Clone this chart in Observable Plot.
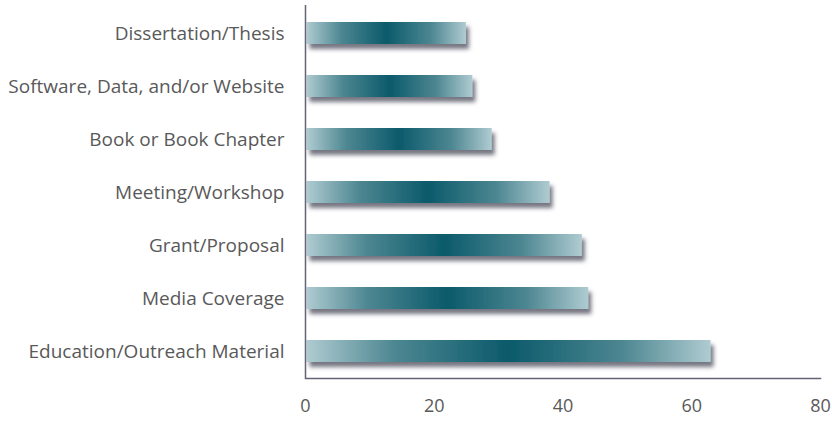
<!DOCTYPE html>
<html>
<head>
<meta charset="utf-8">
<script src="https://cdn.jsdelivr.net/npm/d3@7"></script>
<script src="https://cdn.jsdelivr.net/npm/@observablehq/plot@0.6"></script>
<style>
  html, body { margin: 0; padding: 0; background: #fff; }
  #chart svg { display: block; }
  #chart svg g[aria-label="y-axis tick label"] text { font-size: 19px; }
</style>
</head>
<body>
<div id="chart"></div>
<script>
const categories = [
  "Dissertation/Thesis",
  "Software, Data, and/or Website",
  "Book or Book Chapter",
  "Meeting/Workshop",
  "Grant/Proposal",
  "Media Coverage",
  "Education/Outreach Material"
];
const values = [25, 26, 29, 38, 43, 44, 63];
const xTicks = [0, 20, 40, 60, 80];

const data = categories.map((c, i) => ({category: c, value: values[i]}));

const defs = () => {
  const svg = d3.create("svg:defs");
  const g = svg.append("linearGradient").attr("id", "barGrad")
    .attr("x1", "0").attr("x2", "1").attr("y1", "0").attr("y2", "0");
  g.append("stop").attr("offset", "0%").attr("stop-color", "#afcbd1");
  g.append("stop").attr("offset", "22%").attr("stop-color", "#4c8691");
  g.append("stop").attr("offset", "50%").attr("stop-color", "#0b5a6b");
  g.append("stop").attr("offset", "78%").attr("stop-color", "#4c8691");
  g.append("stop").attr("offset", "100%").attr("stop-color", "#afcbd1");
  const f = svg.append("filter").attr("id", "barShadow")
    .attr("x", "-10%").attr("y", "-30%").attr("width", "130%").attr("height", "200%");
  f.append("feDropShadow").attr("dx", 3).attr("dy", 5).attr("stdDeviation", 2.2)
    .attr("flood-color", "#3a3a50").attr("flood-opacity", 0.7);
  return svg.node();
};

const chart = Plot.plot({
  width: 832,
  height: 421,
  marginLeft: 305,
  marginRight: 12,
  marginTop: 5,
  marginBottom: 43,
  style: {fontFamily: "'Open Sans', sans-serif", fontSize: "18px", color: "#595959", background: "#fff"},
  x: {domain: [0, 80], ticks: xTicks, label: null, tickSize: 0, tickPadding: 21},
  y: {domain: categories, paddingInner: 0.59, paddingOuter: 0.295, label: null, tickSize: 0, tickPadding: 21},
  marks: [
    defs,
    Plot.barX(data, {x: "value", y: "category", fill: "url(#barGrad)", insetLeft: 1.5}),
    Plot.ruleX([0], {stroke: "#646474", strokeWidth: 1.5}),
    Plot.frame({anchor: "bottom", stroke: "#646474", strokeWidth: 1.5})
  ]
});
d3.select(chart).selectAll("g[aria-label='bar']").attr("filter", "url(#barShadow)");
document.getElementById("chart").appendChild(chart);
</script>
</body>
</html>
